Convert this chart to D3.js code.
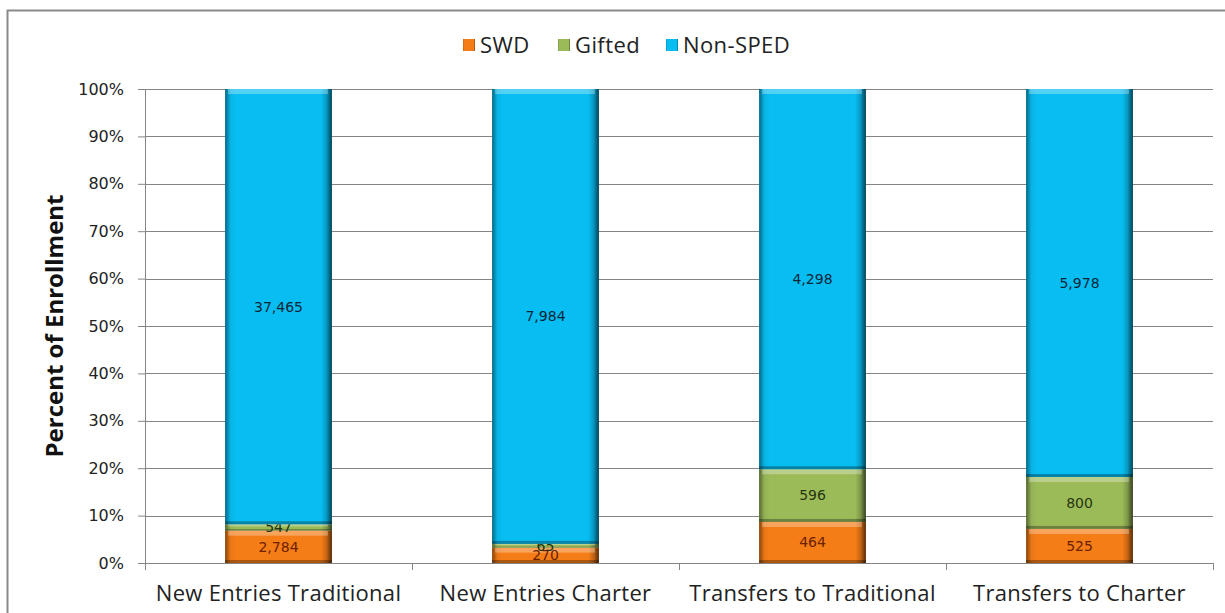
<!DOCTYPE html>
<html>
<head>
<meta charset="utf-8">
<script src="https://cdn.jsdelivr.net/npm/d3@7"></script>
<style>
  body { margin: 0; background: #fff; }
  svg { display: block; }
</style>
</head>
<body>
<svg id="chart" width="1225" height="613"></svg>
<script>
// values (counts; bars show share of total)
var categories = ["New Entries Traditional", "New Entries Charter", "Transfers to Traditional", "Transfers to Charter"];
var seriesNames = ["SWD", "Gifted", "Non-SPED"];
var swd = [2784, 270, 464, 525];
var gifted = [547, 65, 596, 800];
var nonSped = [37465, 7984, 4298, 5978];
var yTicks = [0, 0.1, 0.2, 0.3, 0.4, 0.5, 0.6, 0.7, 0.8, 0.9, 1];

var colors = { "SWD": "#f57d17", "Gifted": "#9bbb59", "Non-SPED": "#08bdf1" };
var labelColors = { "SWD": "#6b2000", "Gifted": "#263510", "Non-SPED": "#0c2638" };

var svg = d3.select("#chart");
var margin = { left: 145, right: 12, top: 89, bottom: 50 };
var plotW = 1213 - margin.left, plotH = 563 - margin.top;

// outer chart border (runs off the right and bottom edge like the original)
svg.append("rect")
    .attr("x", 7.5).attr("y", 10.5)
    .attr("width", 1240).attr("height", 640)
    .attr("fill", "none").attr("stroke", "#8a8a8a").attr("stroke-width", 2);

var defs = svg.append("defs");
var shade = defs.append("linearGradient").attr("id", "shade")
    .attr("x1", 0).attr("x2", 1).attr("y1", 0).attr("y2", 0);
shade.append("stop").attr("offset", "0%").attr("stop-color", "#000").attr("stop-opacity", 0.45);
shade.append("stop").attr("offset", "5%").attr("stop-color", "#000").attr("stop-opacity", 0.05);
shade.append("stop").attr("offset", "10%").attr("stop-color", "#000").attr("stop-opacity", 0);
shade.append("stop").attr("offset", "90%").attr("stop-color", "#000").attr("stop-opacity", 0);
shade.append("stop").attr("offset", "95%").attr("stop-color", "#000").attr("stop-opacity", 0.2);
shade.append("stop").attr("offset", "100%").attr("stop-color", "#000").attr("stop-opacity", 0.65);

var rows = categories.map(function(c, i)
{
    var total = swd[i] + gifted[i] + nonSped[i];
    return { cat: c, "SWD": swd[i] / total, "Gifted": gifted[i] / total, "Non-SPED": nonSped[i] / total,
             counts: { "SWD": swd[i], "Gifted": gifted[i], "Non-SPED": nonSped[i] } };
});
var stacked = d3.stack().keys(seriesNames)(rows);

var x = d3.scaleBand().domain(categories).range([0, plotW]).paddingInner(0.6).paddingOuter(0.3);
var y = d3.scaleLinear().domain([0, 1]).range([plotH, 0]);

var g = svg.append("g").attr("transform", "translate(" + margin.left + "," + margin.top + ")");

// gridlines
g.append("g").selectAll("line").data(yTicks.slice(1)).enter().append("line")
    .attr("x1", 0).attr("x2", plotW)
    .attr("y1", function(d) { return Math.round(y(d)) + 0.5; })
    .attr("y2", function(d) { return Math.round(y(d)) + 0.5; })
    .attr("stroke", "#858585").attr("stroke-width", 1);

// y axis
var yAxis = g.append("g")
    .call(d3.axisLeft(y).tickValues(yTicks).tickFormat(d3.format(".0%")).tickSize(7).tickPadding(14));
yAxis.select(".domain").attr("stroke", "#858585");
yAxis.selectAll(".tick line").attr("stroke", "#858585");
yAxis.selectAll("text").attr("font-family", "DejaVu Sans").attr("font-size", 16).attr("fill", "#222");

// x axis with ticks between categories
var xAxis = g.append("g").attr("transform", "translate(0," + plotH + ")")
    .call(d3.axisBottom(x).tickSize(0).tickPadding(22));
xAxis.select(".domain").attr("stroke", "#858585");
xAxis.selectAll("text").attr("font-family", "Open Sans").attr("font-size", 22)
    .attr("letter-spacing", 0.3).attr("fill", "#222");
xAxis.selectAll(".sep").data(d3.range(categories.length + 1)).enter().append("line")
    .attr("class", "sep")
    .attr("x1", function(i) { return Math.round(plotW * i / categories.length) + 0.5; })
    .attr("x2", function(i) { return Math.round(plotW * i / categories.length) + 0.5; })
    .attr("y1", 0).attr("y2", 7).attr("stroke", "#858585");

// bars
var layers = g.selectAll(".layer").data(stacked).enter().append("g").attr("class", "layer");
var segs = layers.selectAll("g").data(function(s) { s.forEach(function(d) { d.key = s.key; }); return s; })
    .enter().append("g");

segs.append("rect")
    .attr("x", function(d) { return x(d.data.cat); })
    .attr("y", function(d) { return y(d[1]); })
    .attr("width", x.bandwidth())
    .attr("height", function(d) { return y(d[0]) - y(d[1]); })
    .attr("fill", function(d) { return colors[d.key]; });
segs.append("rect")
    .attr("x", function(d) { return x(d.data.cat); })
    .attr("y", function(d) { return y(d[1]); })
    .attr("width", x.bandwidth())
    .attr("height", function(d) { return y(d[0]) - y(d[1]); })
    .attr("fill", "url(#shade)");
// top highlight and bottom shadow of the bevel
segs.append("rect")
    .attr("x", function(d) { return x(d.data.cat) + 3; })
    .attr("y", function(d) { return y(d[1]); })
    .attr("width", x.bandwidth() - 7)
    .attr("height", function(d) { return Math.min(5, (y(d[0]) - y(d[1])) / 3); })
    .attr("fill", "#fff").attr("opacity", 0.3);
segs.append("rect")
    .attr("x", function(d) { return x(d.data.cat); })
    .attr("y", function(d) { var h = y(d[0]) - y(d[1]); return y(d[0]) - Math.min(3, h / 4); })
    .attr("width", x.bandwidth())
    .attr("height", function(d) { return Math.min(3, (y(d[0]) - y(d[1])) / 4); })
    .attr("fill", "#000").attr("opacity", 0.3);

// data labels
segs.append("text")
    .attr("x", function(d) { return x(d.data.cat) + x.bandwidth() / 2; })
    .attr("y", function(d) { return (y(d[0]) + y(d[1])) / 2; })
    .attr("dy", "0.35em")
    .attr("text-anchor", "middle")
    .attr("font-family", "DejaVu Sans").attr("font-size", 14)
    .attr("fill", function(d) { return labelColors[d.key]; })
    .text(function(d) { return d3.format(",")(d.data.counts[d.key]); });

// y title
svg.append("text")
    .attr("transform", "translate(63,326) rotate(-90)")
    .attr("text-anchor", "middle")
    .attr("font-family", "Open Sans").attr("font-weight", "bold").attr("font-size", 24)
    .attr("fill", "#111")
    .text("Percent of Enrollment");

// legend
var legendX = [463, 558, 666];
var legend = svg.append("g").selectAll("g").data(seriesNames).enter().append("g")
    .attr("transform", function(d, i) { return "translate(" + legendX[i] + ",39)"; });
legend.append("rect").attr("width", 12).attr("height", 12).attr("fill", function(d) { return colors[d]; });
legend.append("rect").attr("width", 12).attr("height", 12).attr("fill", "url(#shade)");
legend.append("text").attr("x", 17).attr("y", 6).attr("dy", "0.36em")
    .attr("font-family", "Open Sans").attr("font-size", 22).attr("letter-spacing", 0.4).attr("fill", "#222")
    .text(function(d) { return d; });
</script>
</body>
</html>
